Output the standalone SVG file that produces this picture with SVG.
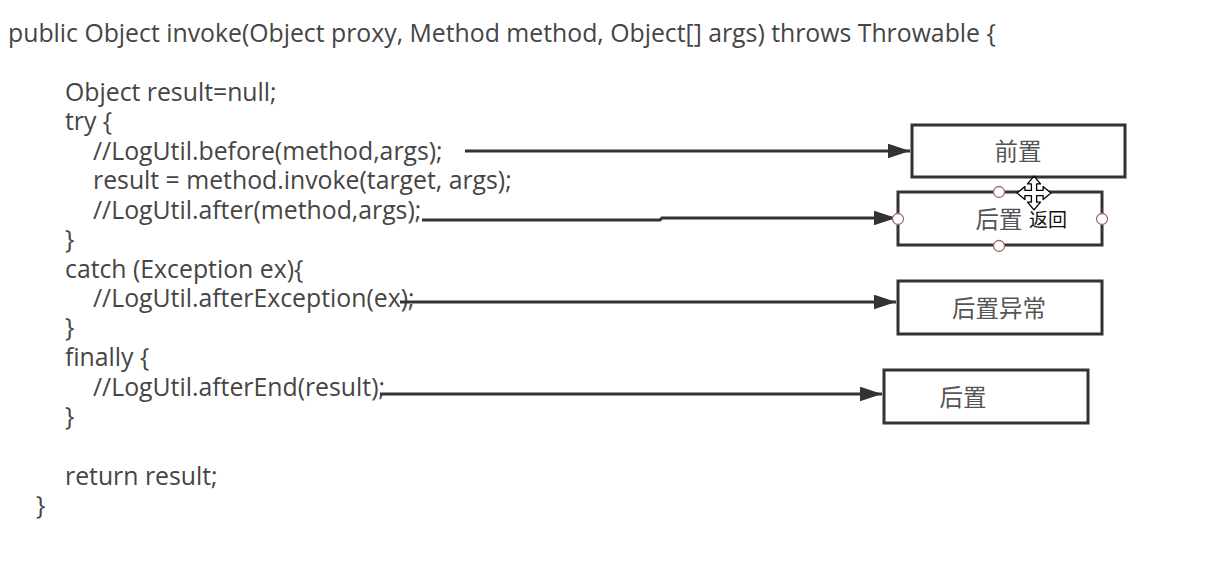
<svg xmlns="http://www.w3.org/2000/svg" width="1208" height="562" viewBox="0 0 1208 562">
  <style>
    .code { font-family: "Open Sans", "Noto Sans", sans-serif; font-size: 24.8px; fill: #454545; }
    .box { fill: #ffffff; stroke: #333333; stroke-width: 3; }
    .lbl { font-family: "Noto Sans CJK SC", sans-serif; font-size: 23.5px; fill: #555555; text-anchor: middle; }
    .tip { font-family: "Noto Sans CJK SC", sans-serif; font-size: 19px; fill: #111111; }
    .edge { fill: none; stroke: #333333; stroke-width: 3; marker-end: url(#arrow); }
    .handle { fill: #ffffff; stroke: #a86a6a; stroke-width: 1.3; }
  </style>
  <defs>
    <marker id="arrow" markerWidth="7.5" markerHeight="5" refX="7.5" refY="2.5" orient="auto" markerUnits="strokeWidth">
      <path d="M0,0 L7.5,2.5 L0,5 Z" fill="#333333"/>
    </marker>
  </defs>
  <rect width="1208" height="562" fill="#ffffff"/>

  <g id="code">
    <text class="code" x="8" y="42">public Object invoke(Object proxy, Method method, Object[] args) throws Throwable {</text>
    <text class="code" x="65" y="101">Object result=null;</text>
    <text class="code" x="65" y="130">try {</text>
    <text class="code" x="93" y="160">//LogUtil.before(method,args);</text>
    <text class="code" x="93" y="189">result = method.invoke(target, args);</text>
    <text class="code" x="93" y="219">//LogUtil.after(method,args);</text>
    <text class="code" x="65" y="248">}</text>
    <text class="code" x="65" y="278">catch (Exception ex){</text>
    <text class="code" x="93" y="307">//LogUtil.afterException(ex);</text>
    <text class="code" x="65" y="336">}</text>
    <text class="code" x="65" y="366">finally {</text>
    <text class="code" x="93" y="396">//LogUtil.afterEnd(result);</text>
    <text class="code" x="65" y="425">}</text>
    <text class="code" x="65" y="485">return result;</text>
    <text class="code" x="36" y="514">}</text>
  </g>

  <g id="connectors">
    <path class="edge" d="M465,151 L910,151"/>
    <path class="edge" d="M422,220 L660,220 L662,218 L896,218"/>
    <path class="edge" d="M400,302 L896,302"/>
    <path class="edge" d="M380,394 L882,394"/>
  </g>

  <g id="node-before">
    <rect class="box" x="912" y="125" width="213" height="52"/>
    <text class="lbl" x="1018" y="160">前置</text>
  </g>

  <g id="node-after-return">
    <rect class="box" x="898" y="192" width="204" height="53"/>
    <text class="lbl" x="999" y="228">后置</text>
    <text class="tip" x="1029" y="227">返回</text>
    <circle class="handle" cx="999" cy="192" r="5.5"/>
    <circle class="handle" cx="898" cy="219" r="5.5"/>
    <circle class="handle" cx="1102" cy="219" r="5.5"/>
    <circle class="handle" cx="999" cy="246" r="5.5"/>
  </g>

  <g id="node-after-throwing">
    <rect class="box" x="898" y="281" width="204" height="53"/>
    <text class="lbl" x="999" y="317">后置异常</text>
  </g>

  <g id="node-after">
    <rect class="box" x="884" y="370" width="204" height="53"/>
    <text class="lbl" x="963" y="406">后置</text>
  </g>

  <!-- move cursor -->
  <g id="cursor" transform="translate(1034,193) scale(1.3)">
    <path d="M0,-13 L5,-7 L2,-7 L2,-2 L7,-2 L7,-5 L13,0 L7,5 L7,2 L2,2 L2,7 L5,7 L0,13 L-5,7 L-2,7 L-2,2 L-7,2 L-7,5 L-13,0 L-7,-5 L-7,-2 L-2,-2 L-2,-7 L-5,-7 Z" fill="#ffffff" stroke="#000000" stroke-width="1" stroke-linejoin="round"/>
  </g>
</svg>
